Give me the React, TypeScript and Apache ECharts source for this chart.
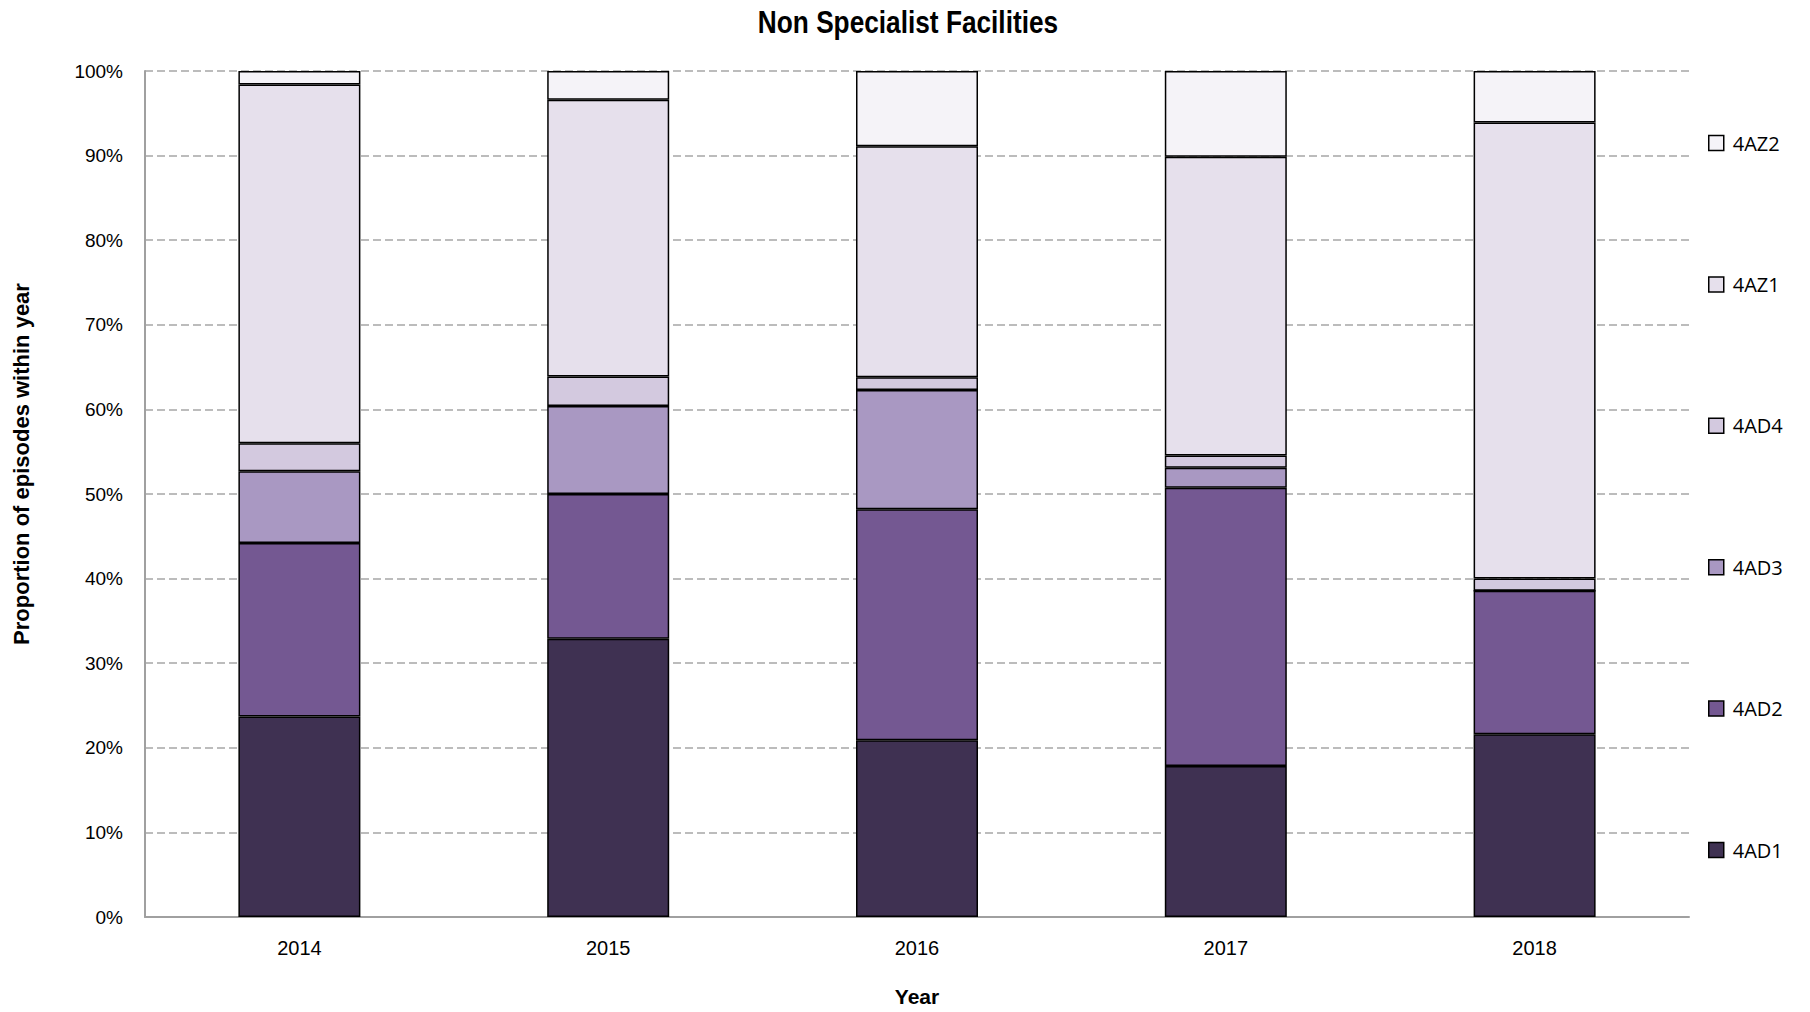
import React, { useEffect, useRef } from "react";
import * as echarts from "echarts";

const years = ["2014", "2015", "2016", "2017", "2018"];
const ad1 = [23.7, 32.9, 20.9, 17.85, 21.6];
const ad2 = [20.5, 17.1, 27.3, 32.9, 16.95];
const ad3 = [8.5, 10.4, 14.1, 2.35, 0];
const ad4 = [3.3, 3.5, 1.5, 1.45, 1.45];
const az1 = [42.4, 32.7, 27.3, 35.3, 53.9];
const az2 = [1.6, 3.4, 8.9, 10.15, 6.1];

const seriesNames = ["4AD1", "4AD2", "4AD3", "4AD4", "4AZ1", "4AZ2"];
const seriesColors = ["#3F3152", "#745892", "#A998C2", "#D3C9DF", "#E6E0EC", "#F5F3F8"];
const seriesValues = [ad1, ad2, ad3, ad4, az1, az2];
const legendOrder = ["4AZ2", "4AZ1", "4AD4", "4AD3", "4AD2", "4AD1"];

const SANS = "'Liberation Sans', Arial, sans-serif";

export default function App() {
  const ref = useRef<HTMLDivElement>(null);
  useEffect(() => {
    if (!ref.current) return;
    const chart = echarts.init(ref.current, undefined, { renderer: "svg" });
    const h = chart.getHeight();
    chart.setOption({
      animation: false,
      backgroundColor: "#ffffff",
      grid: { left: 145, right: 121, top: 71, bottom: h - 920, containLabel: false },
      legend: {
        orient: "vertical",
        left: 1708,
        top: 133,
        padding: 0,
        itemWidth: 15,
        itemHeight: 15,
        itemGap: 121.4,
        icon: "rect",
        data: legendOrder,
        itemStyle: { borderColor: "#000", borderWidth: 1.5 },
        textStyle: { fontFamily: "'Open Sans', 'Noto Sans', sans-serif", fontSize: 20, color: "#000", lineHeight: 15, padding: [0, 0, 0, 4] },
      },
      xAxis: {
        type: "category",
        data: years,
        name: "Year",
        nameLocation: "middle",
        nameGap: 69,
        nameTextStyle: { fontFamily: SANS, fontWeight: "bold", fontSize: 21, color: "#000" },
        axisLine: { lineStyle: { color: "#A0A0A0", width: 2 } },
        axisTick: { show: false },
        axisLabel: { fontFamily: SANS, fontSize: 20, color: "#000", margin: 21 },
      },
      yAxis: {
        type: "value",
        min: 0,
        max: 100,
        interval: 10,
        axisLine: { show: true, lineStyle: { color: "#A0A0A0", width: 2 } },
        axisTick: { show: false },
        axisLabel: { formatter: "{value}%", fontFamily: SANS, fontSize: 19, color: "#000", margin: 22 },
        splitLine: { lineStyle: { color: "#A6A6A6", width: 1.5, type: [8, 4] } },
      },
      graphic: [
        {
          type: "text",
          x: 908,
          y: 22,
          scaleX: 0.82,
          style: {
            text: "Non Specialist Facilities",
            fontFamily: SANS,
            fontWeight: "bold",
            fontSize: 32,
            fill: "#000",
            align: "center",
            verticalAlign: "middle",
          },
        },
        {
          type: "text",
          x: 21,
          y: 464,
          rotation: Math.PI / 2,
          style: {
            text: "Proportion of episodes within year",
            fontFamily: SANS,
            fontWeight: "bold",
            fontSize: 22,
            fill: "#000",
            align: "center",
            verticalAlign: "middle",
          },
        },
      ],
      series: seriesNames.map((name, i) => ({
        name,
        type: "bar",
        stack: "total",
        barWidth: 122,
        data: seriesValues[i],
        itemStyle: { color: seriesColors[i], borderColor: "#000", borderWidth: 1.5 },
      })),
    });
    return () => chart.dispose();
  }, []);
  return (
    <div
      ref={ref}
      style={{ position: "absolute", left: 0, top: 0, width: 1810, height: 1012 }}
    />
  );
}
